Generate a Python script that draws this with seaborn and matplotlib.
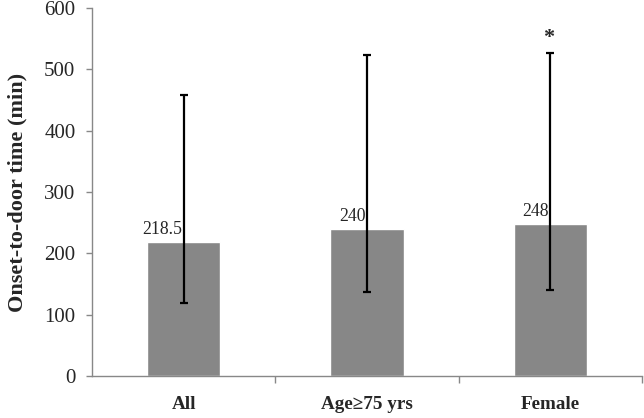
import pandas as pd
import matplotlib.pyplot as plt
import seaborn as sns

# chart data
groups = ['All', 'Age≥75 yrs', 'Female']
medians = [218.5, 240, 248]
lower = [120, 137, 140]
upper = [458, 523, 526]
value_labels = ['218.5', '240', '248']
star_group = 'Female'

df = pd.DataFrame({'group': groups, 'time': medians})

sns.set_style('white')
plt.rcParams['font.family'] = ['Liberation Serif', 'DejaVu Serif']

fig = plt.figure(figsize=(6.44, 4.18), dpi=100)
ax = fig.add_axes([0.143, 0.100, 0.854, 0.881])

sns.barplot(data=df, x='group', y='time', color='#878787', saturation=1,
            width=0.4, errorbar=None, ax=ax)

# error bars (lower / upper range)
xs = range(len(groups))
yerr = [[m - lo for m, lo in zip(medians, lower)],
        [hi - m for m, hi in zip(medians, upper)]]
ax.errorbar(xs, medians, yerr=yerr, fmt='none', ecolor='black',
            elinewidth=1.6, capsize=3, capthick=1.6)

# value labels
for x, m, lab in zip(xs, medians, value_labels):
    ax.annotate(lab, (x, m), xytext=(-1, 3), textcoords='offset points',
                ha='right', va='bottom', fontsize=12.8)

# significance star
si = groups.index(star_group)
ax.annotate('*', (si, upper[si]), xytext=(-1, 4), textcoords='offset points',
            ha='center', va='bottom', fontsize=16, fontweight='bold')

ax.set_ylim(0, 600)
ax.set_xlim(-0.5, 2.5)
ax.set_yticks(range(0, 601, 100))
ax.set_ylabel('Onset-to-door time (min)', fontsize=16, fontweight='bold',
              labelpad=12)
ax.set_xlabel('')
ax.tick_params(axis='y', labelsize=15, length=4, width=1, color='#888888',
               left=True, pad=8)
ax.tick_params(axis='x', labelsize=13.8, length=0, pad=14)
for lab in ax.get_xticklabels():
    lab.set_fontweight('bold')

# category separator ticks on x axis
ax.set_xticks([0.5, 1.5, 2.5], minor=True)
ax.tick_params(axis='x', which='minor', bottom=True, length=5, width=1,
               color='#888888')

for side in ['top', 'right']:
    ax.spines[side].set_visible(False)
for side in ['left', 'bottom']:
    ax.spines[side].set_color('#888888')
    ax.spines[side].set_linewidth(1)

fig.savefig('out.png', dpi=100)
